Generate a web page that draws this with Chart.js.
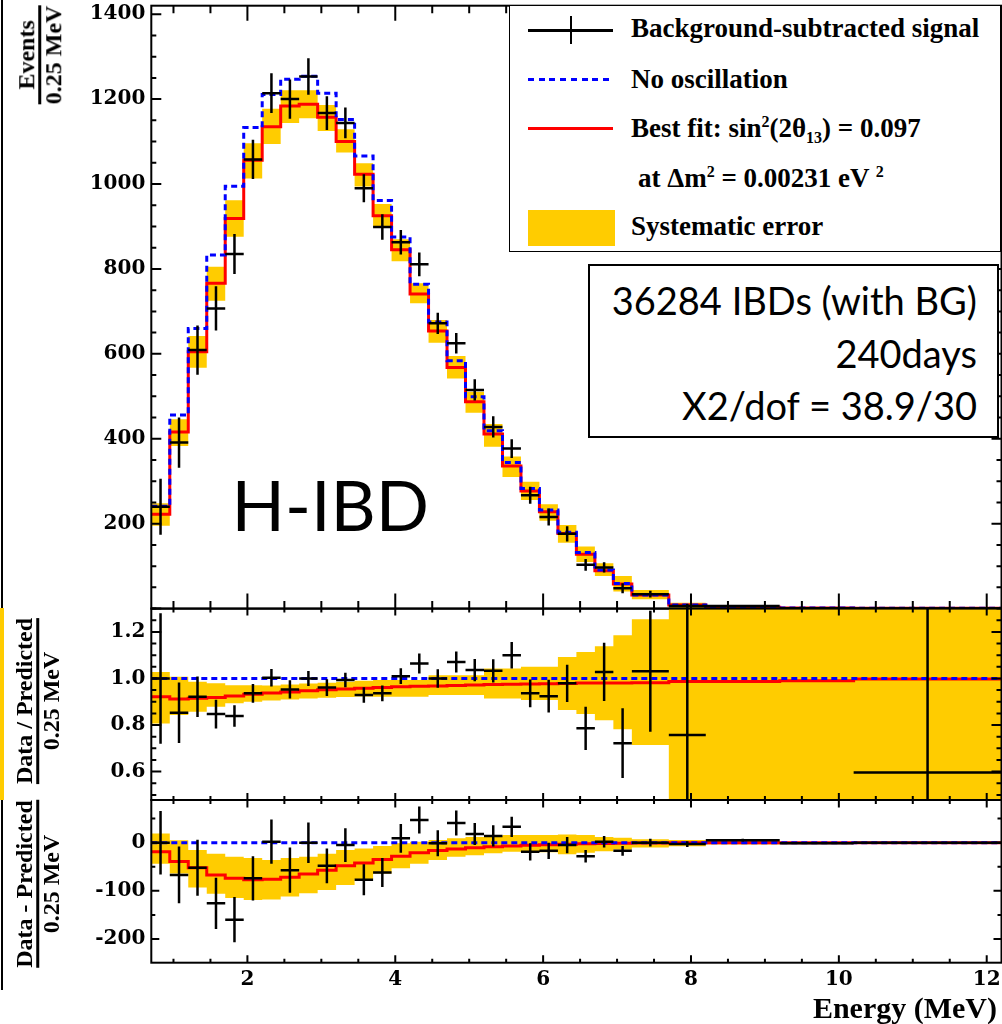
<!DOCTYPE html>
<html><head><meta charset="utf-8">
<script src="https://cdn.jsdelivr.net/npm/chart.js@4/dist/chart.umd.min.js"></script>
<style>
html,body{margin:0;padding:0;background:#fff;}
body{width:1002px;height:1024px;overflow:hidden;position:relative;}
canvas{position:absolute;left:0;}
.ov{position:absolute;white-space:nowrap;color:#000;}
.lg{font:bold 27px 'Liberation Serif';line-height:30px;}
.lg sup,.lg sub{font-size:16px;line-height:0;}
.lg sup{vertical-align:10px;}
.lg sub{vertical-align:-6px;}
.frac{position:absolute;transform:translate(-50%,-50%) rotate(-90deg);display:flex;flex-direction:column;align-items:center;font:bold 24px 'Liberation Serif';line-height:21px;white-space:nowrap;}
.frac i{display:block;align-self:stretch;height:2.5px;background:#000;margin:1px 0 2px 0;}
</style></head><body>
<canvas id="cTop" width="1002" height="620" style="top:0px"></canvas>
<canvas id="cRatio" width="1002" height="210" style="top:600px"></canvas>
<canvas id="cDiff" width="1002" height="234" style="top:790px"></canvas>

<!-- left edge remnants -->
<div class="ov" style="left:1px;top:0;width:2px;height:990px;background:#000"></div>
<div class="ov" style="left:0;top:608px;width:4px;height:192px;background:#ffcc00"></div>

<!-- axis titles -->
<div class="frac" style="left:40px;top:55px"><span>Events</span><i></i><span>0.25 MeV</span></div>
<div class="frac" style="left:38px;top:701px"><span>Data / Predicted</span><i></i><span>0.25 MeV</span></div>
<div class="frac" style="left:38px;top:884px"><span>Data - Predicted</span><i></i><span>0.25 MeV</span></div>
<div class="ov" style="right:5px;top:993px;font:bold 30px 'Liberation Serif';line-height:30px">Energy (MeV)</div>

<!-- legend -->
<div class="ov" style="left:509px;top:5px;width:492px;height:247px;border:1.5px solid #000;box-sizing:border-box;background:#fff"></div>
<div class="ov" style="left:528px;top:29px;width:85px;height:2.5px;background:#000"></div>
<div class="ov" style="left:569.5px;top:16px;width:2.5px;height:28px;background:#000"></div>
<div class="ov" style="left:528px;top:77.8px;width:85px;height:3px;background:repeating-linear-gradient(to right,#0000ff 0 6px,transparent 6px 10.7px)"></div>
<div class="ov" style="left:528px;top:126.8px;width:85px;height:3px;background:#ff0000"></div>
<div class="ov" style="left:528px;top:210px;width:87px;height:36px;background:#ffcc00"></div>
<div class="ov lg" style="left:631px;top:13px">Background-subtracted signal</div>
<div class="ov lg" style="left:631px;top:63.5px">No oscillation</div>
<div class="ov lg" style="left:631px;top:113px">Best fit: sin<sup>2</sup>(2θ<sub>13</sub>) = 0.097</div>
<div class="ov lg" style="left:638px;top:162.7px">at Δm<sup>2</sup> = 0.00231 eV <sup>2</sup></div>
<div class="ov lg" style="left:631px;top:211px">Systematic error</div>

<!-- info box -->
<div class="ov" style="left:588px;top:264px;width:411px;height:174px;border:2px solid #000;box-sizing:border-box;background:#fff"></div>
<div class="ov" style="right:25px;top:274px;font:38px Lato;line-height:52.5px;text-align:right">36284 IBDs (with BG)<br>240days<br>X2/dof = 38.9/30</div>
<div class="ov" style="left:231.5px;top:468.6px;font:70px Lato;line-height:70px">H-IBD</div>

<script>
// ---------------- data ----------------
const binEdges = [0.7,0.95,1.2,1.45,1.7,1.95,2.2,2.45,2.7,2.95,3.2,3.45,3.7,3.95,4.2,4.45,4.7,4.95,5.2,5.45,5.7,5.95,6.2,6.45,6.7,6.95,7.2,7.7,8.2,9.2,10.2,12.2];

// top panel (events / 0.25 MeV)
const noOsc   = [241,456,660,833,995,1133,1211,1247,1254,1214,1152,1066,961,875,764,675,584,499,419,344,283,232,180,132,91,59,32,8.3,3,1.5,0.8];
const bestFit = [222,416,605,766,919,1056,1135,1184,1188,1157,1100,1023,925,845,741,654,568,487,411,336,277,228,177,128,89,58,32,8.2,3,1.5,0.8];
const sysLow  = [195,383,567,725,876,1013,1094,1144,1155,1125,1074,994,899,818,719,626,542,461,381,310,256,207,155,110,77,40,22,0.5,1,0.5,0.2];
const sysHigh = [248,446,642,805,962,1096,1177,1221,1221,1186,1129,1049,953,870,766,680,595,511,435,358,299,246,197,146,107,77,44,14,5,2.5,1.5];
const signal    = [240,391,609,707,835,1058,1214,1200,1253,1167,1144,990,899,863,811,672,625,515,428,377,267,216,176,103,97,48,34,6,6,1,0.5];
const signalErr = [66,59,58,52,47,46,47,46,43,40,36,33,30,29,28,25,24,25,25,22,20,20,18,14,12,12,8,5,3,2,2];

// middle panel (data / predicted)
const ratioNoOsc = 1.0;
const ratioFit  = [0.921,0.912,0.915,0.918,0.925,0.932,0.937,0.942,0.947,0.951,0.955,0.958,0.961,0.964,0.966,0.968,0.970,0.972,0.974,0.975,0.976,0.977,0.978,0.980,0.980,0.981,0.982,0.987,0.987,0.990,0.998];
const ratioSysLow  = [0.807,0.843,0.857,0.879,0.893,0.900,0.905,0.910,0.914,0.917,0.920,0.922,0.921,0.921,0.921,0.929,0.929,0.929,0.914,0.914,0.907,0.907,0.864,0.847,0.821,0.782,0.714,-1,-1,-1,-1];
const ratioSysHigh = [1.028,1.007,0.986,0.979,0.971,0.971,0.970,0.974,0.978,0.982,0.986,0.990,0.993,0.993,0.993,1.014,1.014,1.014,1.043,1.043,1.050,1.050,1.092,1.114,1.138,1.186,1.254,3,3,3,3];
const ratioData = [1.0,0.853,0.921,0.847,0.839,0.936,1.003,0.953,1.0,0.961,0.993,0.929,0.936,1.01,1.064,1.0,1.071,1.036,1.033,1.1,0.936,0.924,0.979,0.786,1.028,0.722,1.031,0.757,null,null,0.596];
const ratioErr  = [0.28,0.13,0.087,0.062,0.046,0.04,0.038,0.039,0.032,0.036,0.031,0.033,0.034,0.034,0.043,0.04,0.045,0.048,0.05,0.057,0.06,0.07,0.08,0.093,0.125,0.15,0.26,0.6,null,null,1.0];

// bottom panel (data - predicted)
const diffNoOsc = 0;
const diffFit  = [-19,-39,-52,-67,-74,-77,-76,-72,-65,-57,-48,-42,-35,-28,-21,-16,-13,-10.5,-8.5,-7,-5.5,-4.5,-3.5,-2,-1.5,-1,-0.5,0,0,0,0];
const diffSysLow  = [-44,-64,-93,-106,-115,-119,-118,-112,-105,-98,-88,-76,-64,-53,-44,-36,-29,-26,-22,-19,-19,-20,-24,-21,-18,-14,-10,-7.5,-4,-3,-1];
const diffSysHigh = [19,5,-15,-23,-29,-32,-36,-32,-29,-23,-15,-12,-7,-1,2,5.5,9,12,14,16,16,16,17,16,12,10,7,5.5,4,2,1];
const diffData = [0,-67,-52,-126,-160,-74,2,-57,0,-48,-5,-77,-62,9,47,-1,41,18,14,33,-19,-17,-5,-28,2,-17,0,-3,5,-1,0];
const diffErr  = [66,59,58,53,47,46,46,47,42,36,35,32,30,30,28,27,26,23,22,21,18,17,17,13,12,10,8,6,3,2,2];

// tick labels
const xTickLabels = [2,4,6,8,10,12];
const topYTicks   = [200,400,600,800,1000,1200,1400];
const ratioYTicks = [0.6,0.8,1.0,1.2];
const diffYTicks  = [-200,-100,0];

// ---------------- helpers ----------------
const X_MIN = binEdges[0], X_MAX = binEdges[binEdges.length-1];
function stepPoints(values){
  const pts = values.map((v,i)=>({x:binEdges[i], y:v}));
  pts.push({x:X_MAX, y:values[values.length-1]});
  return pts;
}
function flatPoints(level){ return [{x:X_MIN,y:level},{x:X_MAX,y:level}]; }
function crossPoints(values, errs){
  const pts = [];
  values.forEach((v,i)=>{
    if (v === null) return;
    const lo = binEdges[i], hi = binEdges[i+1], c = (lo+hi)/2;
    pts.push({x:lo,y:v},{x:hi,y:v},{x:c,y:null},{x:c,y:v-errs[i]},{x:c,y:v+errs[i]},{x:c,y:null});
  });
  return pts;
}
function datasets(fitPts, noOscPts, low, high, data, err){
  return [
    {data: crossPoints(data, err), borderColor:'#000', borderWidth:2.5, order:1, fill:false, spanGaps:false},
    {data: noOscPts, borderColor:'#0000ff', borderWidth:3, borderDash:[6,4], stepped:true, order:2, fill:false},
    {data: fitPts, borderColor:'#ff0000', borderWidth:3, stepped:true, order:3, fill:false},
    {data: stepPoints(high), borderColor:'rgba(0,0,0,0)', borderWidth:0, backgroundColor:'#ffcc00', fill:'+1', stepped:true, order:10},
    {data: stepPoints(low), borderColor:'rgba(0,0,0,0)', borderWidth:0, fill:false, stepped:true, order:11}
  ];
}

const frameTicks = {
  id:'frameTicks',
  afterDatasetsDraw(chart, args, o){
    const {ctx, chartArea:a} = chart;
    const x = chart.scales.x, y = chart.scales.y;
    ctx.save();
    ctx.strokeStyle = '#000'; ctx.lineWidth = 2;
    ctx.beginPath();
    const kx0 = Math.ceil(x.min/o.xMinor - 1e-6), kx1 = Math.floor(x.max/o.xMinor + 1e-6);
    for (let k=kx0;k<=kx1;k++){
      const px = x.getPixelForValue(k*o.xMinor);
      const L = (k % o.xMajorEvery === 0) ? o.xMajorLen : o.xMinorLen;
      ctx.moveTo(px, a.bottom); ctx.lineTo(px, a.bottom - L);
      ctx.moveTo(px, a.top); ctx.lineTo(px, a.top + L);
    }
    const ky0 = Math.ceil(y.min/o.yMinor - 1e-6), ky1 = Math.floor(y.max/o.yMinor + 1e-6);
    for (let k=ky0;k<=ky1;k++){
      const py = y.getPixelForValue(k*o.yMinor);
      const n = o.yMajorEvery;
      const L = (((k % n)+n)%n === 0) ? o.yMajorLen : o.yMinorLen;
      ctx.moveTo(a.left, py); ctx.lineTo(a.left + L, py);
      ctx.moveTo(a.right, py); ctx.lineTo(a.right - L, py);
    }
    ctx.stroke();
    ctx.strokeRect(a.left, a.top, a.right - a.left, a.bottom - a.top);
    ctx.restore();
  }
};

const tickFont = {family:"'DejaVu Serif'", size:20, weight:'bold'};
const AXIS_W = 151.3;

function makeChart(id, c){
  return new Chart(document.getElementById(id), {
    type:'line',
    data:{datasets:c.datasets},
    options:{
      responsive:false, animation:false, devicePixelRatio:1,
      layout:{padding:c.padding},
      elements:{point:{radius:0, hoverRadius:0}, line:{tension:0, borderCapStyle:'butt'}},
      events:[],
      plugins:{legend:{display:false}, tooltip:{enabled:false}, frameTicks:c.ticks},
      scales:{
        x:{type:'linear', min:X_MIN, max:X_MAX, display:c.showX,
           grid:{display:false, drawTicks:false}, border:{display:false},
           afterBuildTicks:s=>{ s.ticks = xTickLabels.map(v=>({value:v})); },
           afterFit:s=>{ if (c.showX){ s.height = c.xHeight; } s.paddingLeft = 0; s.paddingRight = 0; },
           ticks:{font:tickFont, color:'#000', padding:5, autoSkip:false, maxRotation:0, callback:v=>String(v)}},
        y:{type:'linear', min:c.yMin, max:c.yMax,
           grid:{display:false, drawTicks:false}, border:{display:false},
           afterBuildTicks:s=>{ s.ticks = c.yTicks.map(v=>({value:v})); },
           afterFit:s=>{ s.width = AXIS_W; s.paddingTop = 0; s.paddingBottom = 0; },
           ticks:{font:tickFont, color:'#000', padding:6, autoSkip:false, callback:c.yFmt}}
      }
    },
    plugins:[frameTicks]
  });
}

makeChart('cTop', {
  datasets: datasets(stepPoints(bestFit), stepPoints(noOsc), sysLow, sysHigh, signal, signalErr),
  padding:{top:5.7, bottom:620-608.6, left:0, right:0.5},
  yMin:0, yMax:1420, yTicks:topYTicks, yFmt:v=>String(v), showX:false,
  ticks:{xMinor:0.5, xMajorEvery:4, xMajorLen:15, xMinorLen:7.5, yMinor:50, yMajorEvery:4, yMajorLen:10, yMinorLen:5}
});
makeChart('cRatio', {
  datasets: datasets(stepPoints(ratioFit), flatPoints(ratioNoOsc), ratioSysLow, ratioSysHigh, ratioData, ratioErr),
  padding:{top:8.6, bottom:10, left:0, right:0.5},
  yMin:0.478, yMax:1.3, yTicks:ratioYTicks, yFmt:v=>Number(v).toFixed(1), showX:false,
  ticks:{xMinor:0.5, xMajorEvery:4, xMajorLen:7, xMinorLen:4, yMinor:0.05, yMajorEvery:4, yMajorLen:10, yMinorLen:5}
});
makeChart('cDiff', {
  datasets: datasets(stepPoints(diffFit), flatPoints(diffNoOsc), diffSysLow, diffSysHigh, diffData, diffErr),
  padding:{top:10, bottom:0, left:0, right:0.5},
  yMin:-249.2, yMax:88.6, yTicks:diffYTicks, yFmt:v=>String(v), showX:true, xHeight:61.3,
  ticks:{xMinor:0.5, xMajorEvery:4, xMajorLen:7.5, xMinorLen:4, yMinor:50, yMajorEvery:2, yMajorLen:8, yMinorLen:4}
});
</script>
</body></html>
